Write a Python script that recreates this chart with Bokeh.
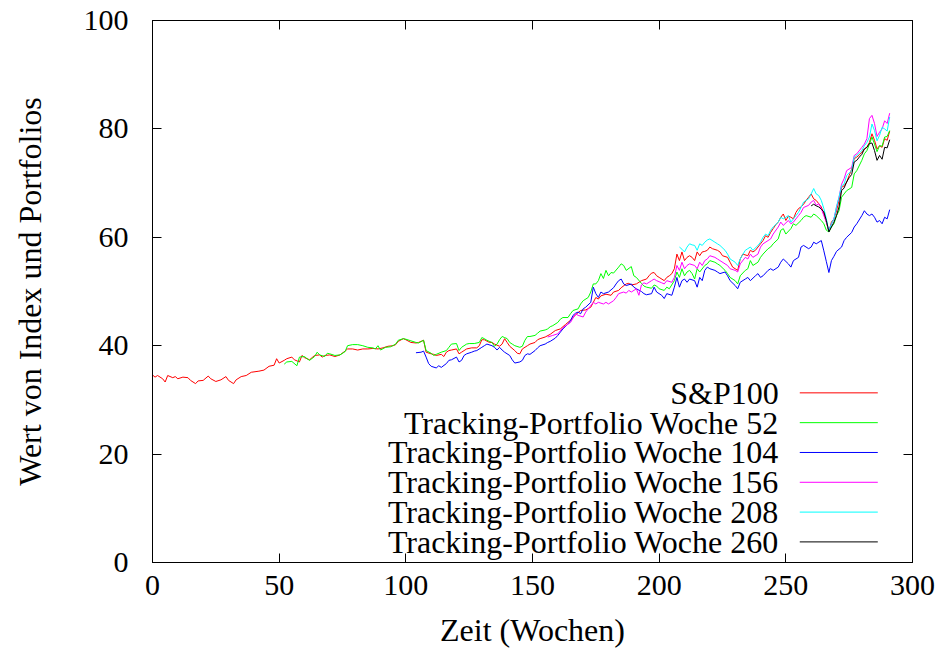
from bokeh.plotting import figure
from bokeh.models import FixedTicker, LinearAxis, Label
from bokeh.embed import file_html
from bokeh.resources import INLINE

# ---- data: weekly values of the index and the tracking portfolios ----
sp_weeks = [0, 1, 2, 4, 5, 6, 8, 9, 10, 12, 14, 15, 17, 18, 20, 22, 23, 25, 27, 29,
            30, 32, 33, 35, 37, 39, 42, 44, 46, 48, 49, 50, 52, 53, 55, 56, 58, 59, 60, 62,
            63, 64, 66, 67, 68, 70, 72, 74, 76, 77, 79, 81, 83, 85, 87, 89, 91, 93, 95, 96,
            97, 99, 100, 102, 104, 105, 107, 108, 110, 111, 112, 114, 115, 116, 117, 118, 120, 121, 122, 123,
            124, 126, 128, 129, 130, 131, 133, 134, 135, 137, 138, 139, 140, 141, 143, 144, 145, 146, 148, 149,
            151, 152, 153, 155, 157, 159, 161, 163, 165, 167, 169, 171, 173, 174, 175, 176, 177, 179, 181, 182,
            184, 185, 187, 188, 189, 191, 193, 195, 196, 197, 198, 199, 200, 202, 203, 204, 205, 206, 207, 208,
            209, 210, 211, 212, 213, 214, 215, 216, 217, 218, 219, 220, 221, 223, 224, 225, 227, 228, 229, 231,
            232, 233, 235, 236, 237, 238, 240, 241, 242, 243, 244, 245, 246, 247, 248, 249, 250, 251, 252, 253,
            254, 255, 256, 257, 258, 259, 260, 261, 262, 263, 264, 265, 266, 267, 268, 269, 270, 271, 272, 273,
            274, 275, 276, 277, 278, 279, 280, 281, 282, 283, 284, 285, 286, 287, 288, 289, 290, 291]
sp_values = [34.6, 34.2, 34.5, 33.9, 33.3, 34.5, 34.1, 34.3, 33.9, 34.2, 34.1, 33.6, 33.0, 33.5, 33.6, 34.4, 33.9, 33.4, 33.7, 34.3,
             33.6, 33.0, 33.7, 34.3, 34.5, 35.1, 35.3, 35.5, 36.2, 36.4, 37.6, 36.8, 37.3, 37.6, 37.9, 37.4, 37.0, 38.2, 37.8, 37.4,
             37.8, 38.2, 38.3, 37.9, 38.2, 38.3, 38.0, 38.3, 39.0, 39.4, 39.4, 39.2, 39.4, 39.4, 39.5, 39.4, 39.6, 39.9, 40.0, 40.2,
             40.8, 41.3, 41.1, 40.6, 40.5, 40.6, 41.0, 38.8, 38.5, 38.4, 38.2, 38.4, 38.0, 38.8, 39.1, 39.2, 39.4, 38.5, 38.8, 39.1,
             39.4, 39.6, 39.6, 40.0, 41.1, 41.1, 40.6, 40.6, 40.3, 39.9, 40.3, 41.3, 40.6, 39.9, 39.1, 38.6, 38.5, 39.4, 40.0, 40.3,
             40.6, 41.1, 41.3, 41.6, 42.1, 42.8, 43.1, 43.9, 44.7, 45.7, 46.5, 46.6, 47.1, 48.0, 48.9, 48.6, 49.2, 49.5, 49.3, 49.9,
             50.2, 50.7, 51.4, 51.5, 51.2, 51.4, 52.0, 52.3, 52.9, 53.4, 53.5, 52.9, 52.6, 52.0, 52.6, 52.9, 53.3, 54.2, 56.9, 55.7,
             57.3, 55.7, 56.3, 56.6, 56.3, 55.7, 57.3, 56.6, 57.3, 57.4, 57.6, 58.2, 57.9, 57.6, 57.3, 56.6, 56.3, 55.4, 54.5, 53.9,
             56.0, 56.9, 56.6, 57.6, 57.3, 57.6, 58.8, 59.4, 60.3, 60.0, 60.9, 61.6, 62.3, 62.8, 63.7, 64.3, 63.1, 63.9, 63.7, 63.4,
             64.6, 65.3, 65.6, 66.1, 66.8, 67.4, 68.0, 67.1, 66.8, 66.2, 65.6, 64.3, 62.8, 61.0, 62.8, 63.4, 64.9, 66.8, 69.2, 69.5,
             70.2, 71.4, 72.6, 74.5, 74.8, 75.2, 75.7, 76.3, 76.6, 77.5, 79.1, 77.9, 76.3, 76.9, 76.6, 78.2, 77.9, 79.6]

w52_weeks = [52, 53, 55, 57, 58, 60, 61, 62, 64, 65, 66, 68, 69, 70, 72, 74, 76, 77, 79, 81,
             83, 85, 87, 88, 89, 90, 92, 94, 96, 97, 99, 100, 102, 104, 105, 107, 108, 110, 111, 112,
             114, 116, 117, 118, 120, 121, 122, 124, 125, 127, 129, 130, 131, 132, 134, 135, 136, 137, 138, 139,
             140, 141, 142, 143, 145, 146, 147, 148, 149, 151, 152, 153, 155, 156, 157, 158, 160, 161, 162, 164,
             165, 166, 168, 169, 170, 172, 173, 174, 175, 176, 177, 178, 179, 180, 181, 182, 184, 185, 186, 187,
             189, 190, 191, 193, 194, 195, 197, 198, 199, 200, 202, 203, 204, 206, 207, 208, 209, 210, 211, 212,
             213, 214, 215, 216, 218, 219, 220, 222, 223, 224, 226, 227, 228, 230, 231, 232, 234, 235, 236, 237,
             239, 240, 241, 243, 244, 245, 247, 248, 249, 250, 252, 253, 254, 256, 257, 258, 260, 261, 262, 264,
             265, 266, 267, 268, 269, 270, 271, 272, 273, 274, 276, 277, 278, 280, 281, 282, 283, 284, 285, 286,
             287, 288, 289, 290, 291]
w52_values = [36.6, 37.0, 37.1, 36.3, 37.9, 38.0, 37.6, 37.3, 38.0, 38.8, 38.3, 38.0, 38.6, 38.5, 38.2, 38.3, 38.9, 40.0, 40.2, 40.2,
              40.0, 39.7, 39.6, 39.4, 40.0, 39.2, 39.7, 39.8, 40.3, 41.0, 41.3, 41.2, 40.9, 40.6, 40.5, 41.0, 39.1, 38.6, 38.2, 38.4,
              38.8, 39.1, 39.7, 40.3, 40.4, 39.1, 39.7, 40.3, 40.4, 40.4, 40.6, 41.5, 41.3, 41.0, 40.6, 39.9, 40.3, 41.1, 41.7, 41.5,
              41.3, 40.6, 40.3, 40.0, 39.7, 39.9, 41.0, 41.7, 41.7, 41.9, 42.3, 42.7, 42.9, 43.1, 43.5, 43.7, 44.3, 44.9, 45.2, 45.2,
              45.9, 46.5, 46.8, 47.7, 48.3, 48.9, 49.9, 51.4, 51.4, 52.0, 53.3, 52.4, 53.9, 52.9, 53.5, 53.4, 54.5, 55.1, 54.8, 53.9,
              54.6, 52.9, 52.6, 51.5, 51.0, 50.8, 50.6, 51.2, 51.0, 50.5, 50.2, 50.8, 50.5, 52.0, 53.6, 52.6, 54.2, 52.9, 53.6, 53.9,
              53.3, 52.3, 54.2, 53.6, 54.8, 55.1, 55.7, 55.4, 55.1, 54.8, 53.9, 53.3, 52.6, 52.0, 51.4, 52.9, 53.9, 54.2, 55.7, 54.8,
              55.4, 56.3, 56.9, 57.9, 58.2, 58.8, 59.7, 61.3, 61.6, 60.6, 61.6, 62.5, 62.2, 63.1, 63.7, 64.0, 63.7, 64.3, 64.0, 63.1,
              62.5, 61.3, 61.0, 61.9, 62.5, 64.0, 64.9, 67.4, 68.0, 68.6, 69.2, 71.7, 72.3, 74.2, 75.4, 76.0, 77.2, 78.5, 77.2, 75.8,
              76.9, 76.8, 78.5, 78.6, 79.7]

w104_weeks = [104, 106, 107, 108, 109, 110, 112, 113, 114, 116, 117, 118, 120, 121, 122, 123, 124, 126, 127, 128,
              130, 131, 132, 134, 135, 136, 137, 138, 139, 141, 142, 143, 145, 146, 147, 148, 149, 151, 152, 153,
              155, 156, 157, 159, 160, 161, 162, 164, 165, 166, 167, 168, 169, 170, 171, 173, 174, 175, 176, 177,
              178, 180, 181, 182, 183, 184, 185, 186, 187, 189, 190, 191, 193, 194, 195, 197, 198, 199, 201, 202,
              203, 205, 206, 207, 208, 209, 210, 211, 212, 214, 215, 216, 217, 218, 219, 220, 222, 223, 224, 226,
              227, 228, 230, 231, 232, 234, 235, 236, 238, 239, 240, 241, 243, 244, 245, 247, 248, 249, 251, 252,
              253, 255, 256, 257, 259, 260, 261, 262, 264, 265, 266, 267, 268, 269, 270, 272, 273, 274, 276, 277,
              278, 280, 281, 282, 283, 284, 285, 286, 287, 288, 289, 290, 291]
w104_values = [38.7, 38.8, 39.0, 37.9, 36.7, 36.2, 35.9, 36.3, 36.0, 36.7, 37.3, 37.4, 37.9, 37.0, 37.3, 38.2, 38.5, 38.8, 39.0, 39.1,
               39.7, 40.0, 40.3, 40.0, 39.7, 39.2, 39.7, 39.2, 38.8, 38.2, 37.4, 36.8, 37.0, 37.3, 38.2, 38.5, 38.4, 39.1, 39.6, 40.0,
               40.3, 40.6, 40.8, 41.4, 41.9, 42.5, 43.1, 44.0, 44.6, 45.6, 46.0, 46.2, 45.9, 46.8, 47.1, 48.0, 50.8, 49.6, 48.9, 49.9,
               49.6, 49.9, 50.3, 50.7, 51.4, 52.0, 52.3, 51.4, 51.1, 51.4, 50.8, 50.5, 50.0, 49.6, 49.4, 49.6, 50.8, 49.9, 49.3, 48.7,
               49.6, 49.3, 50.8, 52.6, 50.8, 52.0, 52.3, 51.7, 52.3, 52.0, 50.8, 52.6, 52.0, 53.9, 54.5, 54.2, 53.9, 53.6, 53.3, 53.6,
               52.9, 52.0, 51.1, 50.5, 51.7, 52.3, 52.6, 52.0, 52.9, 53.3, 52.6, 52.9, 53.9, 54.2, 53.9, 54.5, 55.4, 56.0, 55.1, 54.5,
               55.7, 56.3, 58.2, 58.5, 57.9, 58.2, 59.1, 58.8, 59.4, 57.5, 55.5, 53.5, 55.7, 56.5, 57.4, 58.2, 59.4, 60.0, 60.9, 61.9,
               62.5, 64.0, 64.9, 64.3, 64.0, 64.3, 63.7, 62.8, 63.1, 62.5, 63.7, 63.4, 65.1]

w156_weeks = [156, 158, 160, 162, 165, 167, 168, 170, 171, 172, 174, 175, 176, 178, 179, 180, 182, 183, 184, 186,
              187, 188, 189, 191, 192, 193, 194, 195, 197, 198, 199, 201, 202, 203, 205, 206, 207, 208, 209, 210,
              211, 212, 214, 215, 216, 217, 218, 219, 220, 222, 223, 224, 226, 227, 228, 230, 231, 232, 234, 235,
              236, 237, 239, 240, 241, 243, 244, 245, 247, 248, 249, 251, 252, 253, 255, 256, 257, 259, 260, 261,
              262, 263, 264, 265, 266, 267, 268, 269, 270, 271, 272, 273, 274, 276, 277, 278, 280, 281, 282, 283,
              284, 285, 286, 287, 288, 289, 290, 291]
w156_values = [41.6, 41.9, 42.2, 43.3, 44.3, 45.9, 45.6, 45.3, 46.2, 46.8, 48.0, 47.7, 48.0, 47.7, 48.0, 47.7, 48.3, 48.9, 49.6, 49.9,
               49.7, 50.2, 49.9, 50.5, 49.3, 51.2, 51.6, 51.4, 52.0, 52.3, 52.0, 51.6, 51.4, 52.0, 51.7, 52.6, 54.8, 53.9, 55.4, 54.2,
               54.8, 55.1, 54.8, 54.2, 55.4, 54.8, 55.7, 56.0, 56.6, 56.3, 56.0, 55.7, 55.1, 54.8, 54.2, 53.9, 53.6, 55.1, 56.3, 56.0,
               56.9, 56.3, 56.9, 58.2, 58.8, 59.4, 59.7, 60.6, 61.9, 62.8, 62.2, 63.1, 62.5, 62.8, 64.0, 64.6, 65.5, 65.9, 66.5, 66.8,
               65.9, 66.2, 65.3, 64.0, 62.8, 61.2, 62.5, 63.4, 65.6, 67.4, 69.8, 70.8, 72.3, 72.9, 75.1, 75.4, 76.6, 77.2, 78.2, 81.9,
               82.5, 81.0, 78.6, 79.4, 80.0, 81.5, 81.0, 82.9]

w208_weeks = [208, 209, 210, 211, 212, 213, 214, 215, 216, 217, 218, 219, 220, 222, 223, 224, 226, 227, 228, 230,
              231, 232, 234, 235, 236, 237, 239, 240, 241, 242, 243, 244, 245, 247, 248, 249, 251, 252, 253, 255,
              256, 257, 259, 260, 261, 262, 263, 264, 265, 266, 267, 268, 269, 270, 271, 272, 273, 274, 276, 277,
              278, 280, 281, 282, 283, 284, 285, 286, 287, 288, 289, 290, 291]
w208_values = [58.2, 57.8, 57.3, 58.2, 58.8, 58.6, 58.5, 57.6, 58.8, 58.5, 59.1, 59.5, 59.7, 59.1, 58.8, 58.5, 57.6, 56.9, 56.0, 55.4,
               54.8, 56.0, 57.6, 57.9, 58.2, 57.6, 58.5, 59.1, 60.0, 60.6, 60.3, 61.3, 61.9, 62.8, 63.7, 63.4, 64.0, 62.8, 63.4, 64.6,
               65.5, 66.5, 67.1, 68.0, 69.0, 68.0, 67.7, 66.8, 65.3, 63.4, 61.1, 62.5, 63.4, 65.6, 67.4, 69.5, 69.8, 71.4, 72.3, 74.8,
               75.1, 76.0, 76.9, 77.5, 78.5, 80.9, 79.7, 77.8, 78.8, 80.3, 80.0, 79.6, 82.2]

w260_weeks = [260, 261, 262, 263, 264, 265, 266, 267, 268, 269, 270, 271, 272, 273, 274, 275, 276, 277, 278, 279,
              280, 281, 282, 283, 284, 285, 286, 287, 288, 289, 290, 291]
w260_values = [65.8, 66.1, 65.8, 65.6, 65.2, 64.7, 63.1, 61.0, 61.9, 62.8, 64.0, 65.6, 68.6, 69.1, 70.2, 71.0, 71.6, 73.9, 74.2, 74.8,
               75.3, 76.3, 76.6, 77.3, 77.4, 76.0, 74.2, 75.1, 74.4, 76.6, 76.5, 78.0]

series_names = ["S&P100",
                "Tracking-Portfolio Woche 52",
                "Tracking-Portfolio Woche 104",
                "Tracking-Portfolio Woche 156",
                "Tracking-Portfolio Woche 208",
                "Tracking-Portfolio Woche 260"]
x_ticks = [0, 50, 100, 150, 200, 250, 300]
y_ticks = [0, 20, 40, 60, 80, 100]

# ---- styling ----
FONT = "'Liberation Serif', 'DejaVu Serif', serif"
TICK_FS = "30px"
LABEL_FS = "32px"
colors = ["#ff0000", "#00ff00", "#0000ff", "#ff00ff", "#00ffff", "#000000"]
series = [(sp_weeks, sp_values), (w52_weeks, w52_values), (w104_weeks, w104_values),
          (w156_weeks, w156_values), (w208_weeks, w208_values), (w260_weeks, w260_values)]

p = figure(width=943, height=652, x_range=(0, 300), y_range=(0, 100),
           output_backend="svg", toolbar_location=None,
           min_border_left=152, min_border_right=31, min_border_top=20, min_border_bottom=90,
           background_fill_color="white", border_fill_color="white")
p.grid.visible = False
p.outline_line_color = "black"
p.outline_line_width = 1
p.outline_line_alpha = 1

p.xaxis.ticker = FixedTicker(ticks=x_ticks)
p.yaxis.ticker = FixedTicker(ticks=y_ticks)
p.xaxis.axis_label = "Zeit (Wochen)"
p.yaxis.axis_label = "Wert von Index und Portfolios"

for ax in (p.xaxis[0], p.yaxis[0]):
    ax.axis_line_color = "black"
    ax.major_tick_line_color = "black"
    ax.major_tick_in = 9
    ax.major_tick_out = 0
    ax.minor_tick_line_color = None
    ax.major_label_text_font = FONT
    ax.major_label_text_font_size = TICK_FS
    ax.major_label_text_color = "black"
    ax.axis_label_text_font = FONT
    ax.axis_label_text_font_size = LABEL_FS
    ax.axis_label_text_font_style = "normal"
    ax.axis_label_text_color = "black"

p.xaxis.major_label_standoff = 13
p.xaxis.axis_label_standoff = 14
p.yaxis.major_label_standoff = 24
p.yaxis.axis_label_standoff = 33

# mirrored ticks on the top and right edges of the frame (labels not drawn)
top_axis = LinearAxis(ticker=FixedTicker(ticks=x_ticks))
right_axis = LinearAxis(ticker=FixedTicker(ticks=y_ticks))
for ax in (top_axis, right_axis):
    ax.major_tick_in = 9
    ax.major_tick_out = 0
    ax.minor_tick_line_color = None
    ax.major_label_text_font_size = "1px"
    ax.major_label_text_color = None
    ax.major_label_standoff = 0
    ax.axis_line_color = "black"
    ax.major_tick_line_color = "black"
p.add_layout(top_axis, "above")
p.add_layout(right_axis, "right")

# data lines
for (wk, val), col in zip(series, colors):
    p.line(wk, val, line_color=col, line_width=1)

# key in the lower right: text right-aligned, line sample to its right
key_text_x = 247.2
key_line_x0, key_line_x1 = 255.5, 286.3
key_top, key_step = 31.3, 5.5
for i, (name, col) in enumerate(zip(series_names, colors)):
    ky = key_top - i * key_step
    p.add_layout(Label(x=key_text_x, y=ky, text=name, text_align="right",
                       text_baseline="middle", text_font=FONT, text_font_size=LABEL_FS,
                       text_color="black"))
    p.segment(x0=[key_line_x0], y0=[ky], x1=[key_line_x1], y1=[ky],
              line_color=col, line_width=1)

open("out.html", "w").write(file_html(p, INLINE))
